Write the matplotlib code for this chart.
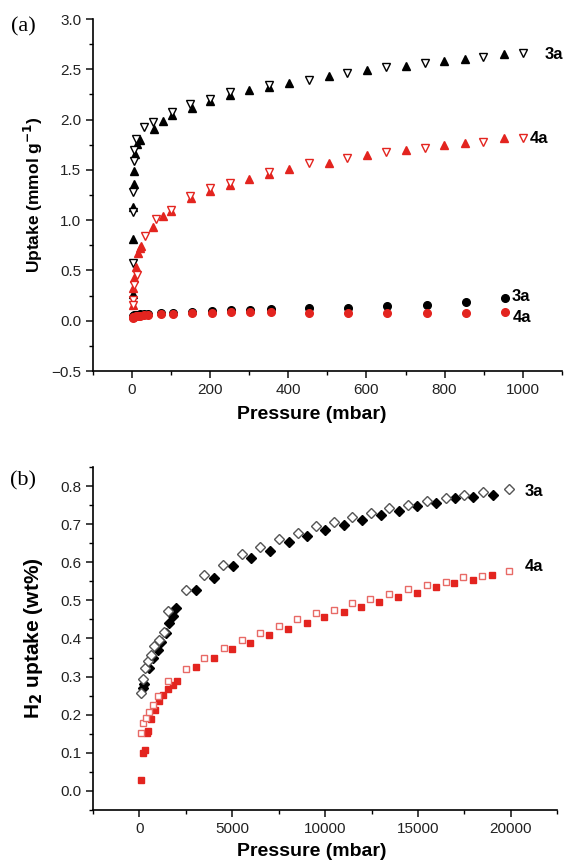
import numpy as np
import matplotlib.pyplot as plt
from matplotlib.ticker import MultipleLocator

plt.rcParams["font.family"] = ["Liberation Sans", "DejaVu Sans"]

RED = "#e3241f"

# ---- panel (a): uptake vs pressure (mbar) ----
p3a_ads = [1, 2, 3, 4, 5, 7, 12, 20, 56, 79, 102, 153, 199, 250, 298, 350, 401,
           503, 602, 701, 798, 852, 952]
u3a_ads = [0.27, 0.81, 1.13, 1.36, 1.49, 1.66, 1.76, 1.80, 1.91, 1.99, 2.05, 2.12,
           2.18, 2.24, 2.29, 2.32, 2.36, 2.43, 2.49, 2.53, 2.58, 2.60, 2.65]
p3a_des = [1000, 898, 750, 650, 551, 452, 350, 250, 199, 148, 102, 53, 31, 10, 6,
           4, 3, 2, 1]
u3a_des = [2.66, 2.62, 2.56, 2.52, 2.46, 2.39, 2.34, 2.27, 2.20, 2.15, 2.08, 1.98,
           1.93, 1.81, 1.70, 1.59, 1.28, 1.08, 0.57]

p4a_ads = [1, 3, 6, 10, 15, 20, 23, 53, 79, 100, 150, 199, 250, 298, 350, 401, 503,
           602, 701, 798, 852, 952]
u4a_ads = [0.16, 0.33, 0.42, 0.53, 0.67, 0.72, 0.74, 0.93, 1.04, 1.09, 1.22, 1.29,
           1.35, 1.41, 1.46, 1.51, 1.57, 1.65, 1.70, 1.75, 1.77, 1.82]
p4a_des = [1000, 898, 750, 650, 551, 452, 350, 250, 199, 148, 100, 61, 33, 12, 6,
           3, 1]
u4a_des = [1.82, 1.78, 1.72, 1.68, 1.62, 1.57, 1.48, 1.37, 1.32, 1.24, 1.10, 1.01,
           0.84, 0.45, 0.36, 0.21, 0.16]

p_circ = [1, 3, 6, 10, 15, 20, 30, 40, 74, 104, 153, 204, 253, 301, 355, 454, 553,
          653, 755, 855, 954]
u3a_circ = [0.04, 0.05, 0.06, 0.06, 0.06, 0.07, 0.07, 0.07, 0.08, 0.08, 0.09, 0.10,
            0.11, 0.11, 0.12, 0.13, 0.13, 0.15, 0.16, 0.19, 0.23]
u4a_circ = [0.03, 0.04, 0.04, 0.05, 0.05, 0.05, 0.06, 0.06, 0.07, 0.07, 0.08, 0.08,
            0.09, 0.09, 0.09, 0.08, 0.08, 0.08, 0.075, 0.075, 0.09]

# ---- panel (b): H2 uptake (wt%) vs pressure (mbar) ----
p3a_fill = [215, 268, 536, 750, 1018, 1180, 1447, 1608, 1822, 1983, 3055, 4019,
            5037, 6000, 7020, 8040, 9000, 9970, 10990, 12000, 13020, 13990, 14950,
            15970, 16990, 17950, 19020]
u3a_fill = [0.270, 0.280, 0.323, 0.350, 0.371, 0.392, 0.415, 0.440, 0.458, 0.480,
            0.526, 0.558, 0.590, 0.610, 0.629, 0.652, 0.669, 0.684, 0.697, 0.710,
            0.724, 0.734, 0.747, 0.755, 0.768, 0.771, 0.776]
p3a_open = [107, 200, 322, 482, 643, 804, 1072, 1340, 1554, 2519, 3483, 4500, 5520,
            6480, 7500, 8520, 9490, 10450, 11470, 12490, 13450, 14470, 15490, 16500,
            17470, 18490, 19880]
u3a_open = [0.258, 0.295, 0.323, 0.340, 0.358, 0.379, 0.397, 0.418, 0.471, 0.527,
            0.566, 0.592, 0.621, 0.640, 0.660, 0.676, 0.695, 0.705, 0.718, 0.729,
            0.742, 0.750, 0.761, 0.768, 0.776, 0.784, 0.792]

p4a_fill = [107, 214, 320, 430, 480, 643, 857, 1072, 1286, 1554, 1822, 2036, 3055,
            4036, 5000, 5950, 6960, 8000, 9000, 9930, 10990, 11950, 12920, 13930,
            14950, 15970, 16930, 17950, 18970]
u4a_fill = [0.029, 0.099, 0.108, 0.152, 0.156, 0.189, 0.213, 0.235, 0.253, 0.268,
            0.279, 0.289, 0.324, 0.349, 0.373, 0.389, 0.408, 0.425, 0.441, 0.457,
            0.469, 0.482, 0.495, 0.508, 0.519, 0.534, 0.545, 0.553, 0.566]
p4a_open = [72, 200, 375, 500, 750, 1018, 1554, 2519, 3500, 4536, 5500, 6500, 7520,
            8500, 9490, 10450, 11470, 12430, 13450, 14470, 15490, 16500, 17420,
            18440, 19880]
u4a_open = [0.153, 0.178, 0.191, 0.206, 0.226, 0.248, 0.289, 0.320, 0.349, 0.375,
            0.397, 0.415, 0.432, 0.450, 0.466, 0.476, 0.492, 0.503, 0.518, 0.531,
            0.540, 0.549, 0.561, 0.563, 0.576]

fig = plt.figure(figsize=(5.64, 8.64), dpi=100, facecolor="white")
ax1 = fig.add_axes([0.165, 0.5706, 0.831, 0.4074])
ax2 = fig.add_axes([0.165, 0.0625, 0.823, 0.397])

for ax in (ax1, ax2):
    for side in ("top", "right"):
        ax.spines[side].set_visible(False)
    for side in ("left", "bottom"):
        ax.spines[side].set_linewidth(1.2)
    ax.tick_params(which="major", direction="out", length=5, width=1.2,
                   labelsize=11, colors="#222222")
    ax.tick_params(which="minor", direction="out", length=3, width=1.0)

# panel (a)
ax1.plot(p3a_ads, u3a_ads, "^", color="black", ms=6, ls="none")
ax1.plot(p3a_des, u3a_des, "v", mfc="white", mec="black", mew=1.0, ms=6, ls="none")
ax1.plot(p4a_ads, u4a_ads, "^", color=RED, ms=6, ls="none")
ax1.plot(p4a_des, u4a_des, "v", mfc="white", mec=RED, mew=1.0, ms=6, ls="none")
ax1.plot(p_circ, u3a_circ, "o", color="black", ms=5.5, ls="none")
ax1.plot(p_circ, u4a_circ, "o", color=RED, ms=5.5, ls="none")

ax1.set_xlim(-100, 1100)
ax1.set_ylim(-0.5, 3.0)
ax1.xaxis.set_major_locator(MultipleLocator(200))
ax1.xaxis.set_minor_locator(MultipleLocator(100))
ax1.yaxis.set_major_locator(MultipleLocator(0.5))
ax1.yaxis.set_minor_locator(MultipleLocator(0.25))
ax1.set_xticks([0, 200, 400, 600, 800, 1000])
ax1.set_xlabel("Pressure (mbar)", fontsize=14, fontweight="bold")
ax1.xaxis.set_label_coords(0.467, -0.10)
ax1.set_ylabel("Uptake (mmol g$^{\\mathbf{-1}}$)", fontsize=12.5, fontweight="bold")
ax1.yaxis.set_label_coords(-0.102, 0.50)
ax1.text(1056, 2.65, "3a", fontsize=12, fontweight="bold", va="center")
ax1.text(1018, 1.81, "4a", fontsize=12, fontweight="bold", va="center")
ax1.text(972, 0.24, "3a", fontsize=12, fontweight="bold", va="center")
ax1.text(975, 0.03, "4a", fontsize=12, fontweight="bold", va="center")

# panel (b)
ax2.plot(p3a_fill, u3a_fill, "D", color="black", ms=5, ls="none")
ax2.plot(p3a_open, u3a_open, "D", mfc="white", mec="#555555", mew=1.0, ms=5,
         ls="none")
ax2.plot(p4a_fill, u4a_fill, "s", color=RED, ms=5, ls="none")
ax2.plot(p4a_open, u4a_open, "s", mfc="white", mec="#e86a66", mew=1.0, ms=5,
         ls="none")

ax2.set_xlim(-2500, 22500)
ax2.set_ylim(-0.05, 0.85)
ax2.xaxis.set_major_locator(MultipleLocator(5000))
ax2.xaxis.set_minor_locator(MultipleLocator(2500))
ax2.yaxis.set_major_locator(MultipleLocator(0.1))
ax2.yaxis.set_minor_locator(MultipleLocator(0.05))
ax2.set_xticks([0, 5000, 10000, 15000, 20000])
ax2.set_xlabel("Pressure (mbar)", fontsize=14, fontweight="bold")
ax2.xaxis.set_label_coords(0.472, -0.096)
ax2.set_ylabel("H$_\\mathbf{2}$ uptake (wt%)", fontsize=15, fontweight="bold")
ax2.yaxis.set_label_coords(-0.103, 0.50)
ax2.text(20740, 0.787, "3a", fontsize=12, fontweight="bold", va="center")
ax2.text(20740, 0.589, "4a", fontsize=12, fontweight="bold", va="center")

fig.text(0.02, 0.969, "(a)", fontsize=16, family="Liberation Serif", va="center")
fig.text(0.018, 0.444, "(b)", fontsize=16, family="Liberation Serif", va="center")

fig.savefig("out.png", dpi=100)
